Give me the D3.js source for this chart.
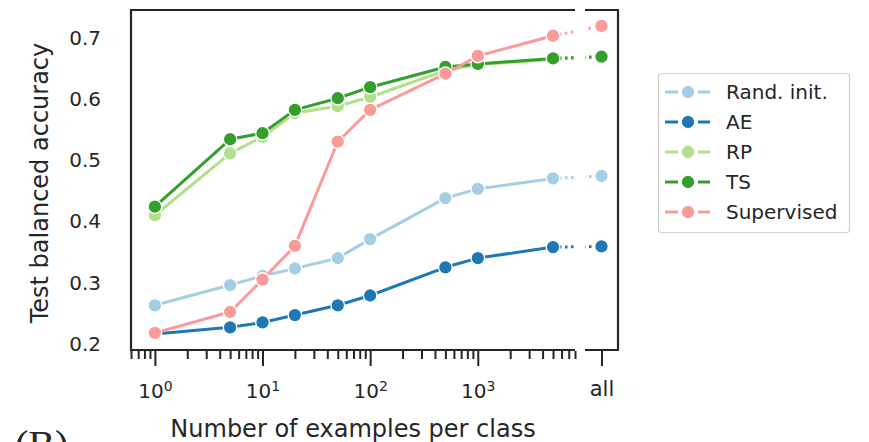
<!DOCTYPE html>
<html>
<head>
<meta charset="utf-8">
<script src="https://cdn.jsdelivr.net/npm/d3@7"></script>
<style>
  html, body { margin: 0; padding: 0; background: #fff; }
  svg { display: block; }
  text { font-family: "DejaVu Sans", sans-serif; fill: #262626; }
</style>
</head>
<body>
<svg id="chart" width="869" height="442"></svg>
<script>
// Training-set sizes (examples per class); the last point uses every example.
const sizes = [1, 5, 10, 20, 50, 100, 500, 1000, 5000];
const allLabel = "all";

// Test balanced accuracy per method: values at each size, then the "all" value.
const seriesNames = ["Rand. init.", "AE", "RP", "TS", "Supervised"];
const randInit   = [0.262, 0.295, 0.310, 0.322, 0.339, 0.370, 0.437, 0.452, 0.469, 0.473];
const ae         = [0.215, 0.226, 0.234, 0.246, 0.262, 0.278, 0.324, 0.339, 0.357, 0.358];
const rp         = [0.409, 0.510, 0.537, 0.576, 0.587, 0.602, 0.645, 0.655, 0.663, 0.667];
const ts         = [0.423, 0.533, 0.543, 0.581, 0.600, 0.618, 0.651, 0.656, 0.665, 0.668];
const supervised = [0.217, 0.251, 0.304, 0.359, 0.529, 0.581, 0.640, 0.669, 0.702, 0.718];
const seriesColors = ["#a6cee3", "#1f78b4", "#b2df8a", "#33a02c", "#fb9a99"];

const yTicks = [0.2, 0.3, 0.4, 0.5, 0.6, 0.7];
const xMajorTicks = [1, 10, 100, 1000];

const series = [randInit, ae, rp, ts, supervised].map((vals, i) => ({
  name: seriesNames[i], color: seriesColors[i], values: vals
}));

const svg = d3.select("#chart");

// Main log-scaled panel plus a narrow panel for the "all" column.
const x = d3.scaleLog().domain([0.6, 8000]).range([131, 575]);
const xAll = d3.scalePoint().domain([allLabel]).range([585, 618]).padding(0.5);
const y = d3.scaleLinear().domain([0.189, 0.744]).range([350, 10]);

const defs = svg.append("defs");
defs.append("clipPath").attr("id", "clip-main")
  .append("rect").attr("x", 131).attr("y", 0).attr("width", 444).attr("height", 360);
defs.append("clipPath").attr("id", "clip-all")
  .append("rect").attr("x", 585).attr("y", 0).attr("width", 33).attr("height", 360);

// Lines
const lineGen = d3.line().x(d => d.px).y(d => d.py);
const layer = svg.append("g");
series.forEach(s => {
  const pts = sizes.map((sz, i) => ({ px: x(sz), py: y(s.values[i]) }));
  const last = pts[pts.length - 1];
  const allPt = { px: xAll(allLabel), py: y(s.values[s.values.length - 1]) };
  const g = layer.append("g");
  g.append("path")
    .attr("d", lineGen(pts))
    .attr("fill", "none").attr("stroke", s.color)
    .attr("stroke-width", 3).attr("stroke-linejoin", "round").attr("stroke-linecap", "round");
  // dotted bridge between the last size and "all", interrupted by the axis break
  ["clip-main", "clip-all"].forEach(cid => {
    g.append("path")
      .attr("d", lineGen([last, allPt]))
      .attr("clip-path", `url(#${cid})`)
      .attr("fill", "none").attr("stroke", s.color)
      .attr("stroke-width", 3).attr("stroke-dasharray", "2.5,3.5");
  });
  g.selectAll("circle.pt").data(pts.concat([allPt])).join("circle")
    .attr("class", "pt")
    .attr("cx", d => d.px).attr("cy", d => d.py).attr("r", 6.8)
    .attr("fill", s.color).attr("stroke", "#fff").attr("stroke-width", 1.3);
});

// Frame of both panels
const spine = svg.append("g").attr("stroke", "#262626").attr("stroke-width", 2.2).attr("fill", "none");
spine.append("path").attr("d", `M575,${y.range()[1]}H131V${y.range()[0]}H575`);
spine.append("path").attr("d", `M585,${y.range()[1]}H618V${y.range()[0]}H585`);

// Y axis labels (no tick marks)
const yAxis = svg.append("g").attr("transform", "translate(131,0)")
  .call(d3.axisLeft(y).tickValues(yTicks).tickSize(0).tickPadding(30).tickFormat(d3.format(".1f")));
yAxis.select(".domain").remove();
yAxis.selectAll("text").style("font-size", "20px").attr("dy", "0.36em");

// X axis: minor and major log ticks
const minorTicks = x.ticks().filter(v => !xMajorTicks.includes(v) && v >= 0.6 && v <= 8000);
const xMinor = svg.append("g").attr("transform", "translate(0,351)")
  .call(d3.axisBottom(x).tickValues(minorTicks).tickSize(8).tickFormat(""));
xMinor.select(".domain").remove();
const xMajor = svg.append("g").attr("transform", "translate(0,351)")
  .call(d3.axisBottom(x).tickValues(xMajorTicks).tickSize(15).tickPadding(10).tickFormat(""));
xMajor.select(".domain").remove();
const xA = svg.append("g").attr("transform", "translate(0,351)")
  .call(d3.axisBottom(xAll).tickSize(15).tickPadding(10));
xA.select(".domain").remove();
[xMinor, xMajor, xA].forEach(g => g.selectAll("line").attr("stroke", "#262626").attr("stroke-width", 2));
xA.selectAll("text").style("font-size", "21px").attr("y", 45).attr("dy", null);

// Power-of-ten labels with superscript exponents
xMajor.selectAll(".tick").append("text")
  .attr("y", 47).attr("text-anchor", "middle")
  .style("font-size", "20px").attr("fill", "#262626")
  .each(function(d) {
    const t = d3.select(this);
    t.append("tspan").text("10");
    t.append("tspan").attr("dy", "-0.5em").style("font-size", "14px")
      .text(String(Math.round(Math.log10(d))));
  });

// Axis titles
svg.append("text").attr("x", 353).attr("y", 437).attr("text-anchor", "middle")
  .style("font-size", "24px").text("Number of examples per class");
svg.append("text").attr("transform", "translate(48,183) rotate(-90)").attr("text-anchor", "middle")
  .style("font-size", "24px").text("Test balanced accuracy");

// Panel tag
svg.append("text").attr("x", 15).attr("y", 458)
  .style("font-family", "'Liberation Serif', serif").style("font-size", "40px").attr("fill", "#000")
  .text("(B)");

// Legend
const legend = svg.append("g");
legend.append("rect").attr("x", 658.5).attr("y", 73.5).attr("width", 191).attr("height", 159)
  .attr("rx", 3).attr("fill", "#fff").attr("stroke", "#d0d0d0").attr("stroke-width", 1.2);
series.forEach((s, i) => {
  const cy = 92 + i * 30;
  const g = legend.append("g");
  g.append("line").attr("x1", 665).attr("x2", 678).attr("y1", cy).attr("y2", cy)
    .attr("stroke", s.color).attr("stroke-width", 3);
  g.append("line").attr("x1", 698).attr("x2", 710).attr("y1", cy).attr("y2", cy)
    .attr("stroke", s.color).attr("stroke-width", 3);
  g.append("circle").attr("cx", 688).attr("cy", cy).attr("r", 6.8)
    .attr("fill", s.color).attr("stroke", "#fff").attr("stroke-width", 1.3);
  g.append("text").attr("x", 726).attr("y", cy).attr("dy", "0.36em")
    .style("font-size", "20px").text(s.name);
});
</script>
</body>
</html>
